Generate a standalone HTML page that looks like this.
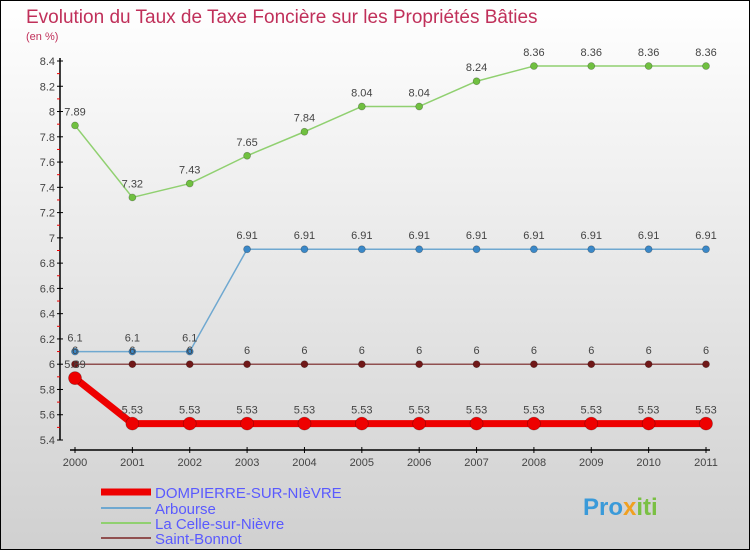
<!DOCTYPE html>
<html><head><meta charset="utf-8"><style>
html,body{margin:0;padding:0}
body{width:750px;height:550px;overflow:hidden;font-family:"Liberation Sans",sans-serif}
</style></head><body>
<svg width="750" height="550" xmlns="http://www.w3.org/2000/svg" id="svg">
<defs><linearGradient id="bg" x1="0" y1="0" x2="0" y2="1"><stop offset="0" stop-color="#ffffff"/><stop offset="1" stop-color="#d0d0d0"/></linearGradient></defs>
<rect x="0.5" y="0.5" width="749" height="549" fill="url(#bg)" stroke="#000" stroke-width="1"/>
<text x="26" y="23" font-size="19" fill="#c0305a">Evolution du Taux de Taxe Foncière sur les Propriétés Bâties</text>
<text x="26" y="40" font-size="11" fill="#c0305a">(en %)</text>
<g id="axes"></g><g id="series"></g>
<g>
<line x1="101" y1="492" x2="151" y2="492" stroke="#e00" stroke-width="7"/>
<text x="155" y="498" font-size="15" fill="#5a5aff">DOMPIERRE-SUR-NIèVRE</text>
<line x1="101" y1="508" x2="151" y2="508" stroke="#6fa8d0" stroke-width="2"/>
<text x="155" y="514" font-size="15" fill="#5a5aff">Arbourse</text>
<line x1="101" y1="523" x2="151" y2="523" stroke="#90d070" stroke-width="2"/>
<text x="155" y="529" font-size="15" fill="#5a5aff">La Celle-sur-Nièvre</text>
<line x1="101" y1="538" x2="151" y2="538" stroke="#905050" stroke-width="2"/>
<text x="155" y="544" font-size="15" fill="#5a5aff">Saint-Bonnot</text>
</g>
<text x="583" y="515" font-size="24" font-weight="bold" fill="#3a9ad9">Pro<tspan fill="#f0a020">x</tspan><tspan fill="#7ac043">iti</tspan></text>
</svg>
<script>
const years=[2000,2001,2002,2003,2004,2005,2006,2007,2008,2009,2010,2011];
const yTicks=[5.4,5.6,5.8,6,6.2,6.4,6.6,6.8,7,7.2,7.4,7.6,7.8,8,8.2,8.4];
const dompierre=[5.89,5.53,5.53,5.53,5.53,5.53,5.53,5.53,5.53,5.53,5.53,5.53];
const arbourse=[6.1,6.1,6.1,6.91,6.91,6.91,6.91,6.91,6.91,6.91,6.91,6.91];
const celle=[7.89,7.32,7.43,7.65,7.84,8.04,8.04,8.24,8.36,8.36,8.36,8.36];
const bonnot=[6,6,6,6,6,6,6,6,6,6,6,6];
const NS="http://www.w3.org/2000/svg";
const X=i=>75+i*(706-75)/11;
const Y=v=>440-(v-5.4)/3*379;
function mk(t,a,p){const e=document.createElementNS(NS,t);for(const k in a)e.setAttribute(k,a[k]);p.appendChild(e);return e;}
const ax=document.getElementById('axes');
const yl=mk('line',{x1:60,y1:Y(8.4)-3,x2:60,y2:Y(5.4),stroke:'#000','stroke-width':1.5},ax);


yTicks.forEach((v,k)=>{
  mk('line',{x1:57,y1:Y(v),x2:63,y2:Y(v),stroke:'#000'},ax);
  if(k<yTicks.length-1) mk('line',{x1:57,y1:Y(v+0.1),x2:60,y2:Y(v+0.1),stroke:'#e00'},ax);
  const t=mk('text',{x:55,y:Y(v)+4,'font-size':11,'text-anchor':'end',fill:'#444'},ax);
  
  
  t.textContent=String(v);
});
const xl=mk('line',{x1:70,y1:450,x2:710,y2:450,stroke:'#000','stroke-width':1.5},ax);


years.forEach((y,i)=>{
  mk('line',{x1:X(i),y1:447,x2:X(i),y2:453,stroke:'#000'},ax);
  const t=mk('text',{x:X(i),y:466,'font-size':11,'text-anchor':'middle',fill:'#444'},ax);
  
  
  t.textContent=y;
});
const sg=document.getElementById('series');
function series(d,name,color,dot,w,r,lab){
  const g=mk('g',{},sg);
  
  
  mk('polyline',{points:d.map((v,i)=>X(i)+','+Y(v)).join(' '),fill:'none',stroke:color,'stroke-width':w,'stroke-linejoin':'round'},g);
  d.forEach((v,i)=>{
    const c=mk('circle',{cx:X(i),cy:Y(v),r:r,fill:dot,stroke:'rgba(0,0,0,0.3)','stroke-width':0.7},g);
    
    
    if(lab){const t=mk('text',{x:X(i),y:Y(v)-10,'font-size':11,'text-anchor':'middle',fill:'#444'},g);
    
    
    t.textContent=String(v);}
  });
}
series(celle,'la-celle-series','#90d070','#70c040',1.5,3.5,true);
series(arbourse,'arbourse-series','#6fa8d0','#3a88c8',1.5,3.5,true);
series(bonnot,'saint-bonnot-series','#905050','#701818',1.5,3.5,true);
series(dompierre,'dompierre-series','#ee0000','#ee0000',7,6.5,true);
</script>
</body></html>
